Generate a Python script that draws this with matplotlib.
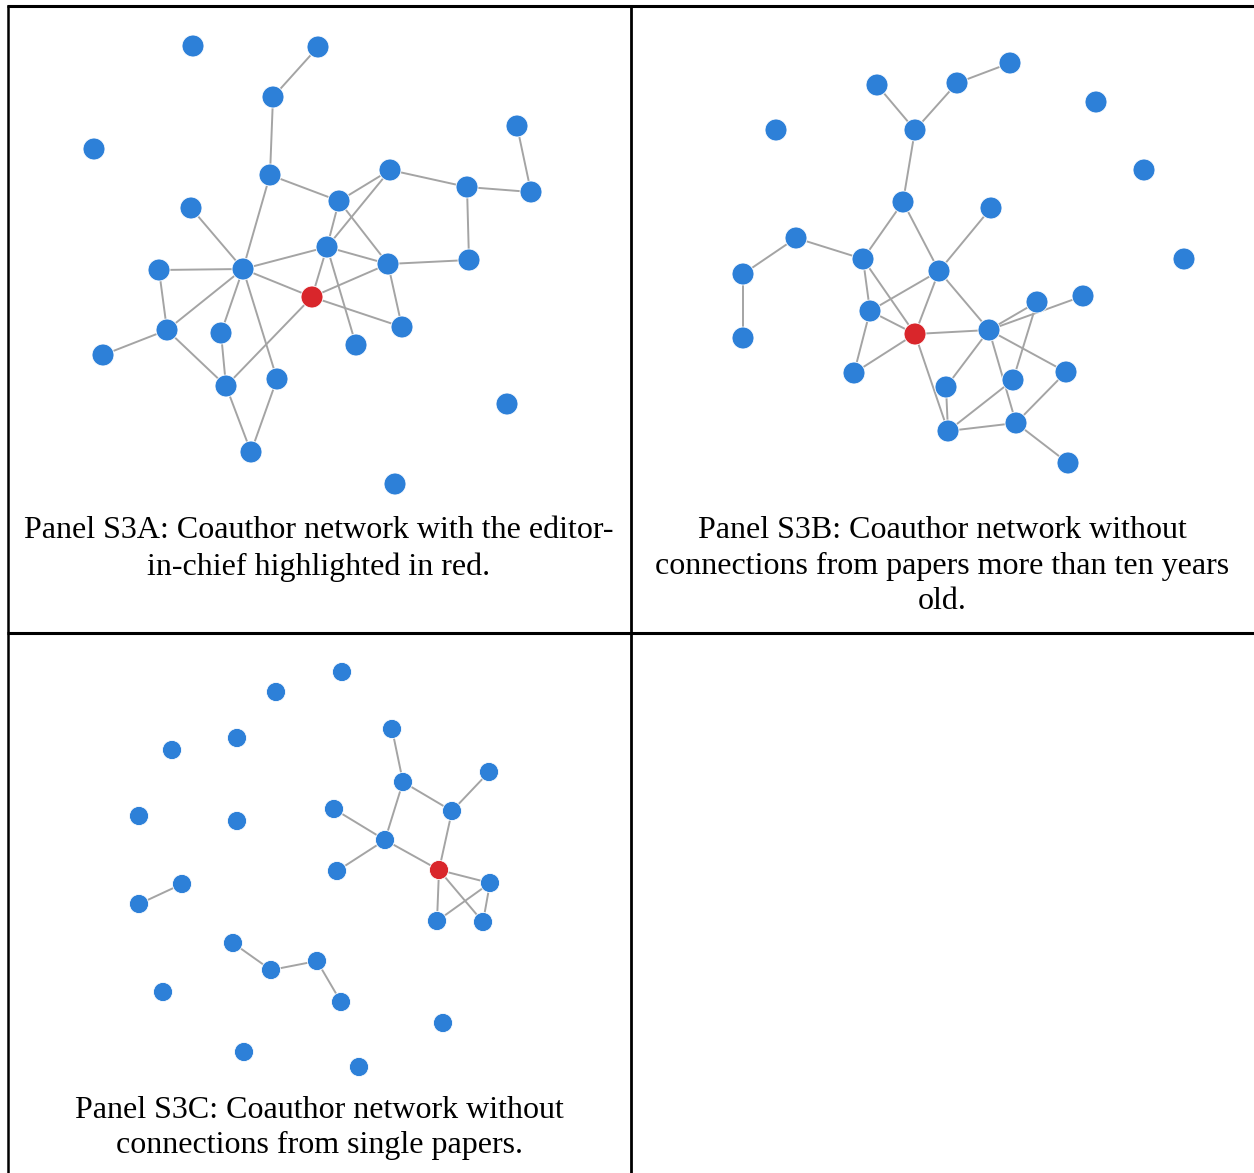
"""Coauthor network panels S3A-S3C laid out as a bordered table."""

import matplotlib.pyplot as plt

W, H = 1254, 1173

BLUE = "#2d80d8"
RED = "#d9262b"
EDGE = "#a4a4a4"

# Panel S3A: node layout (pixels inside the panel) and coauthor links
a_x = [185, 310, 265, 86, 262, 183, 331, 382, 459, 509, 523, 151, 235, 319,
       380, 461, 304, 159, 213, 394, 348, 95, 218, 269, 243, 499, 387]
a_y = [39, 40, 90, 142, 168, 201, 194, 163, 180, 119, 185, 263, 262, 240,
       257, 253, 290, 323, 326, 320, 338, 348, 379, 372, 445, 397, 477]
a_edges = [(1, 2), (2, 4), (4, 6), (4, 12), (6, 7), (7, 8), (8, 10), (9, 10),
           (8, 15), (15, 14), (6, 13), (13, 16), (7, 13), (6, 14), (12, 13),
           (13, 14), (13, 20), (12, 11), (12, 5), (12, 16), (12, 17), (12, 18),
           (12, 23), (11, 17), (17, 21), (17, 22), (18, 22), (22, 16), (22, 24),
           (23, 24), (16, 14), (16, 19), (14, 19)]
a_red = 16

# Panel S3B: without links from papers older than ten years
b_x = [379, 326, 246, 465, 145, 284, 513, 272, 360, 165, 232, 112, 308, 553,
       406, 452, 239, 284, 358, 112, 223, 435, 315, 382, 317, 385, 437]
b_y = [56, 76, 78, 95, 123, 123, 163, 195, 201, 231, 252, 267, 264, 252,
       295, 289, 304, 327, 323, 331, 366, 365, 380, 373, 424, 416, 456]
b_edges = [(0, 1), (1, 5), (2, 5), (5, 7), (7, 10), (7, 12), (12, 18), (8, 12),
           (9, 10), (9, 11), (11, 19), (10, 16), (10, 17), (12, 16), (12, 17),
           (16, 17), (16, 20), (20, 17), (17, 18), (17, 24), (18, 14), (18, 15),
           (18, 22), (18, 21), (18, 25), (14, 23), (22, 24), (23, 24), (24, 25),
           (25, 21), (25, 26)]
b_red = 17

# Panel S3C: without links from single papers
c_x = [334, 268, 384, 229, 164, 481, 395, 444, 326, 131, 229, 377, 329, 431,
       482, 174, 131, 429, 475, 225, 263, 309, 155, 333, 435, 236, 351]
c_y = [39, 59, 96, 105, 117, 139, 149, 178, 176, 183, 188, 207, 238, 237,
       250, 251, 271, 288, 289, 310, 337, 328, 359, 369, 390, 419, 434]
c_edges = [(2, 6), (6, 7), (6, 11), (7, 5), (7, 13), (8, 11), (11, 12),
           (11, 13), (13, 14), (13, 17), (13, 18), (14, 17), (14, 18), (15, 16),
           (19, 20), (20, 21), (21, 23)]
c_red = 13

captions = [
    "Panel S3A: Coauthor network with the editor-\nin-chief highlighted in red.",
    "Panel S3B: Coauthor network without\nconnections from papers more than ten years\nold.",
    "Panel S3C: Coauthor network without\nconnections from single papers.",
]


def panel_axes(fig, x0, y0, x1, y1):
    """Axes covering a pixel box of the figure, with y pointing down."""
    ax = fig.add_axes([x0 / W, 1 - y1 / H, (x1 - x0) / W, (y1 - y0) / H])
    ax.set_xlim(0, x1 - x0)
    ax.set_ylim(y1 - y0, 0)
    ax.axis("off")
    return ax


def draw_network(ax, xs, ys, edges, red, size):
    for i, j in edges:
        ax.plot([xs[i], xs[j]], [ys[i], ys[j]], color=EDGE, lw=1.4,
                solid_capstyle="round", zorder=1)
    colors = [RED if k == red else BLUE for k in range(len(xs))]
    ax.scatter(xs, ys, s=size, c=colors, edgecolors="white", linewidths=0.6,
               zorder=2)


fig = plt.figure(figsize=(W / 100, H / 100), dpi=100)

# table frame and captions drawn in pixel space
frame = panel_axes(fig, 0, 0, W, H)
frame.plot([7, W], [6, 6], color="black", lw=2.2, solid_capstyle="butt")
frame.plot([7, W], [633, 633], color="black", lw=2.2, solid_capstyle="butt")
frame.plot([7.5, 7.5], [5, H], color="black", lw=1.8, solid_capstyle="butt")
frame.plot([631, 631], [5, H], color="black", lw=2.0, solid_capstyle="butt")

txt = dict(ha="center", va="center", family="Liberation Serif", fontsize=23,
           linespacing=1.31, color="black")
frame.text(319, 549, captions[0], **txt)
frame.text(942, 566, captions[1], **txt)
frame.text(319, 1128, captions[2], **txt)

ax_a = panel_axes(fig, 8, 7, 631, 633)
draw_network(ax_a, a_x, a_y, a_edges, a_red, 250)

ax_b = panel_axes(fig, 631, 7, 1254, 633)
draw_network(ax_b, b_x, b_y, b_edges, b_red, 250)

ax_c = panel_axes(fig, 8, 633, 631, 1173)
draw_network(ax_c, c_x, c_y, c_edges, c_red, 190)

fig.savefig("out.png", dpi=100)
